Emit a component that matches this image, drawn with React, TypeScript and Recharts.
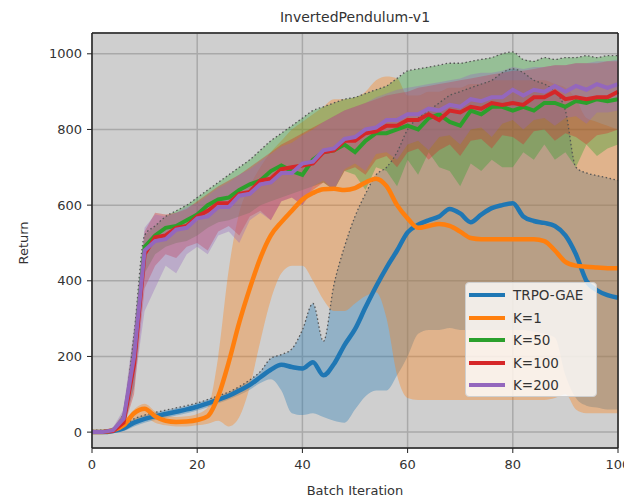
import React from "react";
import { Area, CartesianGrid, ComposedChart, Legend, Line, ReferenceLine, XAxis, YAxis } from "recharts";

const iterations = [
  0, 2, 4, 6, 8, 10, 12, 14, 16, 18, 20, 22, 24, 26, 28, 30, 32, 34, 36, 38, 40, 42, 44, 46, 48, 50,
  52, 54, 56, 58, 60, 62, 64, 66, 68, 70, 72, 74, 76, 78, 80, 82, 84, 86, 88, 90, 92, 94, 96, 98, 100,
];

const trpoMean = [
  0, 0, 3, 10, 25, 35, 42, 48, 54, 60, 67, 76, 86, 96, 110, 125, 145, 165, 178, 172, 168, 185, 150, 180, 230,
  272, 330, 385, 435, 480, 528, 548, 560, 570, 590, 578, 555, 575, 592, 600, 605, 570, 558, 553, 545, 520, 470,
  400, 375, 362, 355,
];
const trpoLow = [
  0, 0, 0, 3, 15, 25, 32, 38, 44, 50, 57, 66, 76, 86, 98, 112, 130, 140, 110, 50, 45, 50, 40, 30, 25, 60, 95,
  110, 110, 150, 200, 260, 270, 270, 275, 270, 270, 270, 270, 270, 270, 270, 265, 260, 250, 150, 90, 70, 65, 60,
  60,
];
const trpoHigh = [
  2, 2, 6, 18, 35, 45, 52, 58, 64, 70, 77, 86, 96, 106, 120, 138, 160, 195, 205, 220, 270, 340, 240, 390, 490,
  570, 630, 680, 700, 740, 800, 830, 850, 870, 890, 900, 910, 920, 930, 950, 960, 950, 930, 920, 900, 850, 700,
  685, 678, 672, 665,
];

const k1Mean = [
  0, 0, 5, 18, 50, 62, 42, 30, 27, 28, 32, 42, 95, 185, 290, 380, 460, 520, 555, 585, 615, 632, 642, 643, 640,
  645, 660, 670, 650, 600, 565, 540, 545, 550, 545, 530, 513, 510, 510, 510, 510, 510, 510, 505, 480, 450, 440,
  437, 435, 433, 433,
];
const k1Low = [
  0, 0, 2, 8, 30, 40, 25, 18, 15, 15, 18, 22, 30, 15, 40, 120, 240, 350, 420, 440, 440, 400, 350, 320, 320, 340,
  360, 370, 300, 150, 90, 85, 85, 85, 85, 85, 85, 85, 85, 85, 85, 85, 85, 85, 90, 100, 60, 50, 50, 50, 50,
];
const k1High = [
  2, 2, 8, 28, 60, 75, 55, 42, 40, 42, 48, 65, 200, 430, 580, 650, 700, 740, 770, 800, 820, 840, 860, 880, 880,
  885, 900, 930, 940, 935, 890, 890, 900, 900, 910, 910, 920, 920, 930, 930, 930, 930, 930, 930, 920, 910, 880,
  830, 820, 810, 800,
];

const k50Mean = [
  0, 0, 4, 30, 190, 490, 520, 540, 545, 560, 575, 600, 615, 620, 640, 655, 665, 690, 705, 690, 680, 720, 740,
  745, 760, 740, 770, 790, 790, 800, 810, 800, 830, 840, 820, 810, 850, 840, 860, 860, 850, 860, 850, 870, 870,
  860, 875, 870, 880, 875, 880,
];
const k50Low = [
  0, 0, 0, 10, 120, 420, 470, 490, 500, 505, 520, 540, 555, 560, 570, 580, 600, 610, 620, 630, 640, 650, 660,
  640, 690, 680, 640, 700, 690, 650, 720, 680, 740, 700, 690, 650, 710, 690, 720, 700, 700, 740, 720, 760, 720,
  740, 700, 760, 730, 750, 760,
];
const k50High = [
  5, 5, 10, 50, 260, 520, 545, 570, 585, 600, 620, 640, 660, 680, 700, 720, 745, 770, 790, 810, 830, 850, 860,
  870, 880, 885, 895, 905, 915, 935, 955, 960, 965, 970, 975, 975, 980, 985, 990, 1000, 1005, 985, 980, 990, 985,
  990, 990, 995, 990, 995, 995,
];

const k100Mean = [
  0, 0, 3, 25, 180, 470, 515, 520, 540, 545, 570, 585, 605, 605, 630, 635, 665, 670, 695, 700, 705, 710, 740,
  745, 770, 770, 790, 795, 810, 810, 825, 825, 840, 825, 850, 845, 860, 855, 870, 865, 870, 865, 885, 885, 900,
  880, 885, 880, 885, 885, 900,
];
const k100Low = [
  0, 0, 0, 10, 100, 380, 440, 470, 460, 490, 500, 480, 530, 545, 520, 570, 585, 560, 610, 620, 600, 640, 660,
  640, 690, 700, 680, 720, 730, 700, 740, 750, 720, 745, 760, 730, 770, 775, 750, 785, 780, 760, 795, 800, 770,
  790, 780, 760, 785, 790, 800,
];
const k100High = [
  5, 5, 10, 50, 260, 530, 580, 575, 580, 590, 610, 630, 650, 665, 680, 700, 720, 740, 760, 775, 790, 805, 820,
  835, 850, 860, 870, 880, 890, 895, 900, 910, 915, 920, 925, 930, 935, 940, 945, 950, 955, 955, 960, 965, 970,
  970, 975, 975, 975, 980, 980,
];

const k200Mean = [
  0, 0, 5, 35, 200, 480, 505, 510, 535, 540, 565, 570, 595, 595, 625, 630, 655, 660, 685, 685, 710, 715, 745,
  750, 775, 780, 800, 805, 825, 825, 840, 840, 855, 850, 865, 860, 880, 875, 885, 885, 905, 890, 905, 900, 915,
  900, 915, 905, 920, 910, 920,
];
const k200Low = [
  0, 0, 0, 10, 120, 320, 380, 440, 420, 470, 490, 470, 520, 530, 500, 560, 580, 560, 610, 620, 600, 650, 665,
  640, 695, 710, 690, 735, 740, 720, 760, 770, 745, 780, 785, 760, 800, 805, 780, 815, 825, 800, 825, 830, 810,
  830, 835, 815, 845, 845, 850,
];
const k200High = [
  5, 5, 12, 60, 280, 540, 575, 570, 580, 595, 605, 625, 645, 660, 680, 695, 715, 735, 755, 765, 785, 800, 820,
  835, 850, 860, 870, 885, 895, 905, 910, 915, 920, 925, 930, 935, 945, 950, 950, 955, 965, 960, 965, 965, 970,
  970, 975, 975, 980, 980, 985,
];

const seriesNames = ["TRPO-GAE", "K=1", "K=50", "K=100", "K=200"];
const seriesColors = ["#1f77b4", "#ff7f0e", "#2ca02c", "#d62728", "#9467bd"];
const xTicks = [0, 20, 40, 60, 80, 100];
const yTicks = [0, 200, 400, 600, 800, 1000];

const means = [trpoMean, k1Mean, k50Mean, k100Mean, k200Mean];
const lows = [trpoLow, k1Low, k50Low, k100Low, k200Low];
const highs = [trpoHigh, k1High, k50High, k100High, k200High];

const rows = iterations.map((x, i) => {
  const row: Record<string, number | number[]> = { x };
  means.forEach((m, s) => {
    row[`m${s}`] = m[i];
    row[`b${s}`] = [lows[s][i], highs[s][i]];
    row[`h${s}`] = highs[s][i];
  });
  return row;
});

const font = "DejaVu Sans, sans-serif";
const textColor = "#333";

function LegendBox() {
  return (
    <div
      style={{
        background: "rgba(255,255,255,0.8)",
        border: "1px solid #cfcfcf",
        borderRadius: 4,
        width: 132,
        height: 115,
        boxSizing: "border-box",
        paddingTop: 1,
      }}
    >
      {seriesNames.map((name, i) => (
        <div key={name} style={{ display: "flex", alignItems: "center", height: 22.5 }}>
          <span
            style={{
              display: "inline-block",
              width: 36,
              height: 4,
              background: seriesColors[i],
              marginLeft: 3,
              marginRight: 8,
            }}
          />
          <span style={{ fontSize: 13.5, color: textColor, fontFamily: font }}>{name}</span>
        </div>
      ))}
    </div>
  );
}

export default function App() {
  return (
    <div style={{ position: "absolute", left: 0, top: 0, width: 624, height: 501, overflow: "hidden", background: "#fff" }}>
      <ComposedChart width={624} height={501} data={rows} margin={{ top: 33, right: 6, bottom: 23, left: 0 }}>
        <CartesianGrid fill="#cfcfcf" fillOpacity={1} stroke="#a9a9a9" strokeWidth={1.5} />
        <XAxis
          dataKey="x"
          type="number"
          domain={[0, 100]}
          ticks={xTicks}
          interval={0}
          height={30}
          tickSize={5}
          tickMargin={7}
          axisLine={{ stroke: "#222", strokeWidth: 1.5 }}
          tickLine={{ stroke: "#222" }}
          tick={{ fontSize: 13, fill: textColor, fontFamily: font }}
        />
        <YAxis
          type="number"
          domain={[-42, 1055]}
          ticks={yTicks}
          interval={0}
          width={92}
          tickSize={5}
          tickMargin={5}
          axisLine={{ stroke: "#222", strokeWidth: 1.5 }}
          tickLine={{ stroke: "#222" }}
          tick={{ fontSize: 13, fill: textColor, fontFamily: font }}
        />
        {seriesColors.map((c, s) => (
          <Area
            key={`band${s}`}
            dataKey={`b${s}`}
            type={s < 2 ? "monotone" : "linear"}
            stroke="none"
            fill={c}
            fillOpacity={0.35}
            isAnimationActive={false}
            legendType="none"
          />
        ))}
        {[0, 2].map((s) => (
          <Line
            key={`edge${s}`}
            dataKey={`h${s}`}
            type="monotone"
            stroke="#555"
            strokeWidth={1.3}
            strokeDasharray="1.5 2.5"
            dot={false}
            activeDot={false}
            isAnimationActive={false}
            legendType="none"
          />
        ))}
        {seriesColors.map((c, s) => (
          <Line
            key={`mean${s}`}
            dataKey={`m${s}`}
            name={seriesNames[s]}
            type={s < 2 ? "monotone" : "linear"}
            stroke={c}
            strokeWidth={s < 2 ? 4.5 : 4}
            dot={false}
            activeDot={false}
            isAnimationActive={false}
          />
        ))}
        <ReferenceLine y={1055} stroke="#222" strokeWidth={1.5} />
        <ReferenceLine x={100} stroke="#222" strokeWidth={1.5} />
        <Legend
          layout="vertical"
          align="center"
          verticalAlign="middle"
          content={() => <LegendBox />}
          wrapperStyle={{ position: "absolute", left: 465, top: 282, width: 132, height: 115 }}
        />
      </ComposedChart>
      <div
        style={{
          position: "absolute",
          left: 355,
          top: 8,
          transform: "translateX(-50%)",
          fontSize: 14,
          lineHeight: "18px",
          fontFamily: font,
          color: textColor,
          whiteSpace: "nowrap",
        }}
      >
        InvertedPendulum-v1
      </div>
      <div
        style={{
          position: "absolute",
          left: 355,
          top: 482,
          transform: "translateX(-50%)",
          fontSize: 13,
          lineHeight: "17px",
          fontFamily: font,
          color: textColor,
          whiteSpace: "nowrap",
        }}
      >
        Batch Iteration
      </div>
      <div
        style={{
          position: "absolute",
          left: 23,
          top: 243,
          transform: "translate(-50%, -50%) rotate(-90deg)",
          fontSize: 13,
          lineHeight: "17px",
          fontFamily: font,
          color: textColor,
          whiteSpace: "nowrap",
        }}
      >
        Return
      </div>
    </div>
  );
}
